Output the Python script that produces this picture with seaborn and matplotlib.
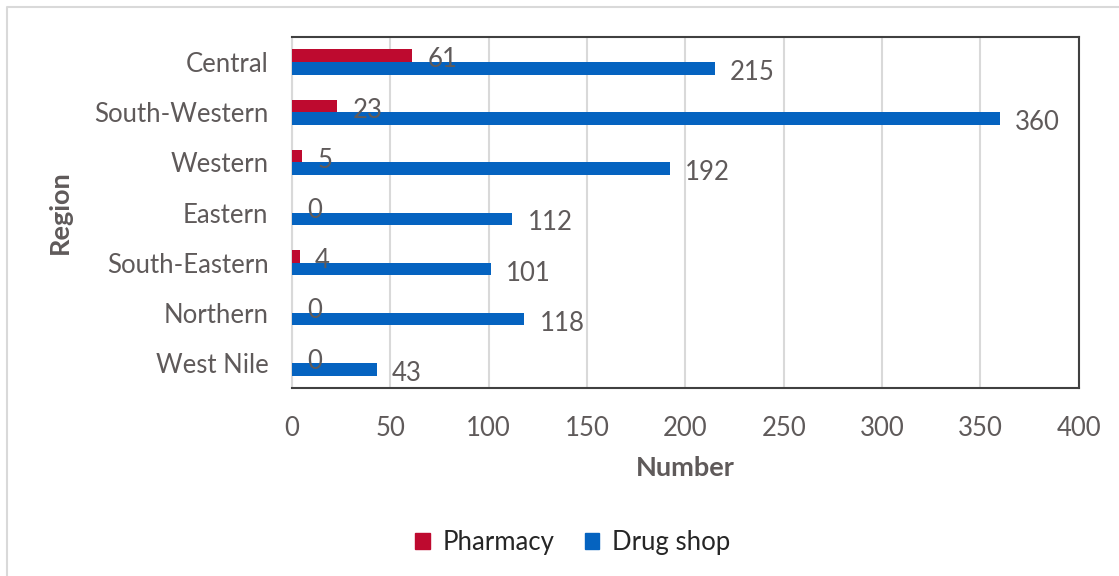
import matplotlib
matplotlib.use("Agg")
import matplotlib.pyplot as plt
from matplotlib.lines import Line2D
import seaborn as sns
import pandas as pd

regions = ["Central", "South-Western", "Western", "Eastern",
           "South-Eastern", "Northern", "West Nile"]
pharmacy = [61, 23, 5, 0, 4, 0, 0]
drug_shop = [215, 360, 192, 112, 101, 118, 43]
series = ["Pharmacy", "Drug shop"]
x_ticks = [0, 50, 100, 150, 200, 250, 300, 350, 400]

df = pd.DataFrame({
    "Region": regions * 2,
    "Type": [series[0]] * len(regions) + [series[1]] * len(regions),
    "Number": pharmacy + drug_shop,
})

sns.set_theme(style="white")
plt.rcParams["font.family"] = ["Lato", "DejaVu Sans"]

text_grey = "#5F5A5A"
colors = {"Pharmacy": "#BE0A2F", "Drug shop": "#0563C0"}

fig = plt.figure(figsize=(11.19, 5.76), dpi=100)
ax = fig.add_axes([0.261, 0.326, 0.703, 0.610])

sns.barplot(data=df, y="Region", x="Number", hue="Type", order=regions,
            hue_order=series, palette=colors, width=0.5, saturation=1,
            edgecolor="none", ax=ax, legend=False, zorder=3)

ax.set_xlim(0, 400)
ax.set_xticks(x_ticks)
ax.set_xticklabels([str(t) for t in x_ticks])
ax.xaxis.grid(True, color="#D9D9D9", linewidth=1.5, zorder=0)
ax.set_axisbelow(True)

for side in ["top", "right", "bottom"]:
    ax.spines[side].set_color("#404040")
    ax.spines[side].set_linewidth(1.5)
ax.spines["left"].set_color("#D9D9D9")
ax.spines["left"].set_linewidth(1.5)

ax.tick_params(axis="both", length=0, labelsize=18.5, colors=text_grey)
ax.tick_params(axis="y", pad=17)
ax.tick_params(axis="x", pad=20)
ax.set_xlabel("Number", fontsize=19.5, fontweight="bold", color=text_grey, labelpad=11)
ax.set_ylabel("Region", fontsize=19.5, fontweight="bold", color=text_grey, labelpad=16)

# value labels just past each bar end
for container in ax.containers:
    for bar in container:
        w = bar.get_width()
        ax.annotate(f"{int(w)}", xy=(w, bar.get_y() + bar.get_height() / 2),
                    xytext=(11, -3), textcoords="offset points",
                    ha="left", va="center", fontsize=18.5, color=text_grey,
                    zorder=5)

handles = [plt.Rectangle((0, 0), 1, 1, color=colors[s]) for s in series]
fig.legend(handles, series, loc="center", bbox_to_anchor=(0.512, 0.058),
           ncol=2, frameon=False, fontsize=18.5, handlelength=0.55,
           handleheight=0.55, handletextpad=0.5, columnspacing=1.2)

# light frame around the chart area
fig.add_artist(Line2D([7 / 1119, 7 / 1119, 1.0], [0.0, 1 - 7 / 576, 1 - 7 / 576],
                      transform=fig.transFigure, color="#D9D9D9", linewidth=1.5))

fig.savefig("out.png", dpi=100, facecolor="white")
